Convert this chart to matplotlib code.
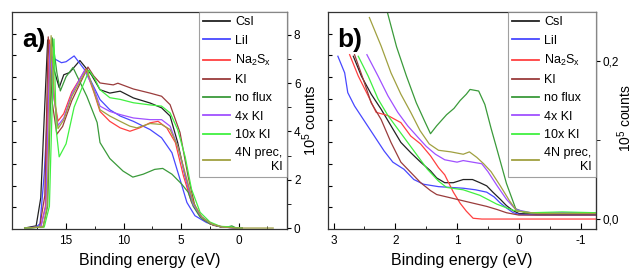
import numpy as np
import matplotlib
matplotlib.use('Agg')
import matplotlib.pyplot as plt
from matplotlib.ticker import MultipleLocator, FuncFormatter

plt.rcParams['font.family'] = ['Liberation Sans', 'DejaVu Sans']
plt.rcParams['mathtext.fontset'] = 'custom'
plt.rcParams['mathtext.rm'] = 'Liberation Sans'
plt.rcParams['mathtext.it'] = 'Liberation Sans'
plt.rcParams['axes.unicode_minus'] = False

labels = ['CsI', 'LiI', 'Na$_2$S$_x$', 'KI', 'no flux', '4x KI', '10x KI', '4N prec,\nKI']
colors = ['#222222', '#4848ff', '#ff4040', '#9a3c3c', '#3a9a3a', '#a050ff', '#40f040', '#a0a040']

# panel a: binding energy (eV), counts (1e5)
a_csi_e = [18.6, 17.6, 17.2, 16.95, 16.6, 16.2, 15.6, 15.2, 14.7, 13.8, 12.8, 12.05, 11.2, 10.3, 9.15, 7.7, 6.7, 5.96, 5.3, 4.65, 4.1, 3.35, 2.5, 1.5, 0.5, -0.3]
a_csi_v = [0.0, 0.09, 1.25, 4.03, 7.79, 6.8, 5.82, 6.35, 6.44, 6.94, 6.35, 5.73, 5.59, 5.67, 5.39, 5.18, 4.98, 4.64, 3.54, 2.15, 1.2, 0.51, 0.18, 0.04, 0.02, 0.0]
a_lii_e = [18.6, 17.6, 17.26, 16.9, 16.35, 15.9, 15.4, 15.0, 14.3, 13.2, 12.05, 11.2, 10.3, 9.15, 7.7, 6.7, 5.8, 5.1, 4.5, 3.8, 2.8, 1.8, 0.8, -0.3]
a_lii_v = [0.0, 0.04, 0.18, 2.24, 7.12, 6.98, 6.85, 6.89, 7.13, 6.44, 5.32, 4.9, 4.64, 4.42, 4.08, 3.74, 3.12, 2.02, 1.06, 0.51, 0.23, 0.07, 0.02, 0.0]
a_nas_e = [18.6, 17.2, 16.8, 16.45, 16.1, 15.7, 15.2, 14.5, 13.3, 12.6, 12.05, 11.2, 10.3, 9.45, 8.6, 7.7, 7.0, 6.25, 5.5, 4.8, 4.1, 3.35, 2.5, 1.5, 0.5, -0.3]
a_nas_v = [0.0, 0.04, 0.9, 7.79, 5.55, 4.43, 4.74, 5.64, 6.58, 5.65, 4.83, 4.42, 4.15, 4.01, 4.15, 4.36, 4.42, 4.15, 3.54, 2.16, 1.07, 0.51, 0.18, 0.04, 0.02, 0.0]
a_ki_e = [18.6, 17.3, 16.85, 16.55, 16.2, 15.8, 15.3, 14.5, 13.1, 12.6, 12.05, 10.9, 10.5, 9.15, 7.7, 6.7, 5.96, 5.1, 4.4, 3.8, 3.1, 2.2, 1.2, 0.3, -0.3]
a_ki_v = [0.0, 0.04, 1.34, 7.92, 5.19, 3.89, 4.21, 5.28, 6.67, 6.3, 6.01, 5.93, 6.0, 5.76, 5.59, 5.46, 5.11, 3.96, 2.15, 0.9, 0.36, 0.11, 0.04, 0.01, 0.0]
a_nof_e = [18.6, 17.0, 16.6, 16.2, 15.8, 15.5, 15.0, 14.4, 13.2, 12.3, 12.05, 11.2, 10.05, 9.2, 8.3, 7.3, 6.6, 5.8, 4.95, 4.4, 3.95, 3.35, 2.5, 1.6, 0.9, 0.6, 0.3, -0.3]
a_nof_v = [0.0, 0.04, 0.9, 7.88, 6.44, 5.68, 6.27, 6.65, 5.46, 4.37, 3.54, 2.88, 2.36, 2.11, 2.23, 2.43, 2.47, 2.23, 1.82, 1.49, 0.9, 0.45, 0.18, 0.05, 0.05, 0.09, 0.02, 0.0]
a_4x_e = [18.6, 17.2, 16.75, 16.4, 16.05, 15.7, 15.2, 14.5, 13.4, 12.6, 12.05, 11.2, 10.3, 9.15, 7.7, 6.7, 5.96, 5.3, 4.5, 3.95, 3.2, 2.3, 1.4, 0.4, -0.3]
a_4x_v = [0.0, 0.04, 0.9, 7.61, 5.37, 4.25, 4.56, 5.55, 6.53, 5.8, 5.05, 4.83, 4.7, 4.56, 4.49, 4.49, 4.22, 3.39, 1.88, 0.98, 0.45, 0.16, 0.04, 0.01, 0.0]
a_10x_e = [18.6, 16.9, 16.45, 16.05, 15.85, 15.6, 15.0, 14.3, 13.0, 12.5, 12.05, 11.2, 10.3, 9.15, 7.7, 6.7, 5.96, 5.3, 4.65, 4.1, 3.35, 2.5, 1.6, 0.8, 0.4, -0.3]
a_10x_v = [0.0, 0.04, 0.9, 7.83, 4.03, 2.95, 3.49, 5.01, 6.53, 6.18, 5.73, 5.4, 5.33, 5.19, 5.1, 5.05, 4.77, 4.08, 2.95, 1.61, 0.65, 0.25, 0.07, 0.05, 0.02, 0.0]
a_4n_e = [18.6, 17.0, 16.65, 16.3, 16.0, 15.7, 15.2, 14.5, 13.2, 12.6, 12.05, 11.2, 10.3, 9.45, 8.85, 7.7, 6.7, 5.96, 5.3, 4.5, 3.95, 3.2, 2.3, 1.4, 0.5, 0.0, -3.0]
a_4n_v = [0.0, 0.04, 0.9, 7.97, 5.28, 4.12, 4.48, 5.46, 6.58, 5.7, 4.9, 4.64, 4.42, 4.22, 4.15, 4.33, 4.29, 4.08, 3.39, 2.02, 1.07, 0.45, 0.16, 0.04, 0.01, 0.0, 0.0]

# panel b: valence band edge region
b_csi_e = [2.68, 2.55, 2.39, 2.23, 2.07, 1.91, 1.75, 1.59, 1.43, 1.33, 1.2, 1.06, 0.9, 0.75, 0.63, 0.52, 0.42, 0.3, 0.2, 0.1, 0.0, -0.3, -0.7, -1.25]
b_csi_v = [0.206, 0.181, 0.158, 0.139, 0.118, 0.097, 0.084, 0.072, 0.061, 0.052, 0.046, 0.046, 0.05, 0.05, 0.046, 0.042, 0.034, 0.025, 0.017, 0.011, 0.007, 0.006, 0.006, 0.006]
b_lii_e = [2.93, 2.82, 2.77, 2.66, 2.5, 2.34, 2.18, 2.04, 1.86, 1.7, 1.54, 1.3, 1.1, 0.9, 0.7, 0.52, 0.4, 0.31, 0.2, 0.09, 0.0, -0.3, -0.7, -1.25]
b_lii_v = [0.206, 0.185, 0.16, 0.143, 0.124, 0.105, 0.086, 0.072, 0.063, 0.05, 0.044, 0.041, 0.04, 0.039, 0.037, 0.034, 0.028, 0.021, 0.014, 0.008, 0.006, 0.005, 0.005, 0.005]
b_nas_e = [2.74, 2.6, 2.44, 2.31, 2.12, 1.91, 1.75, 1.59, 1.43, 1.3, 1.2, 1.06, 0.95, 0.85, 0.74, 0.6, 0.3, 0.0, -0.5, -1.25]
b_nas_v = [0.208, 0.181, 0.156, 0.135, 0.131, 0.122, 0.105, 0.095, 0.08, 0.065, 0.056, 0.034, 0.02, 0.01, 0.001, 0.0, 0.0, 0.0, 0.0, 0.0]
b_ki_e = [2.66, 2.52, 2.39, 2.23, 2.07, 1.91, 1.75, 1.59, 1.43, 1.33, 1.06, 0.79, 0.52, 0.35, 0.2, 0.0, -0.5, -1.25]
b_ki_v = [0.208, 0.177, 0.147, 0.126, 0.097, 0.072, 0.059, 0.046, 0.036, 0.031, 0.026, 0.021, 0.016, 0.012, 0.008, 0.005, 0.005, 0.005]
b_nof_e = [2.14, 1.98, 1.82, 1.66, 1.52, 1.43, 1.33, 1.17, 1.05, 0.95, 0.85, 0.79, 0.65, 0.55, 0.45, 0.36, 0.2, 0.05, -0.1, -0.5, -0.9, -1.25]
b_nof_v = [0.265, 0.218, 0.181, 0.147, 0.123, 0.108, 0.118, 0.132, 0.14, 0.15, 0.158, 0.164, 0.162, 0.145, 0.115, 0.09, 0.045, 0.013, 0.008, 0.007, 0.008, 0.007]
b_4x_e = [2.46, 2.28, 2.12, 1.96, 1.8, 1.64, 1.5, 1.35, 1.2, 1.0, 0.9, 0.75, 0.6, 0.5, 0.35, 0.2, 0.05, -0.2, -0.7, -1.25]
b_4x_v = [0.208, 0.181, 0.156, 0.135, 0.118, 0.104, 0.092, 0.082, 0.075, 0.072, 0.074, 0.072, 0.07, 0.06, 0.042, 0.025, 0.012, 0.008, 0.008, 0.008]
b_10x_e = [2.6, 2.44, 2.28, 2.12, 1.96, 1.8, 1.64, 1.48, 1.3, 1.17, 0.9, 0.63, 0.36, 0.09, -0.2, -0.7, -1.25]
b_10x_v = [0.206, 0.181, 0.152, 0.131, 0.114, 0.097, 0.08, 0.063, 0.048, 0.04, 0.037, 0.03, 0.019, 0.011, 0.008, 0.009, 0.008]
b_4n_e = [2.42, 2.23, 2.07, 1.91, 1.75, 1.6, 1.45, 1.3, 1.1, 0.9, 0.8, 0.68, 0.57, 0.45, 0.3, 0.15, 0.03, -0.3, -0.7, -1.25]
b_4n_v = [0.255, 0.219, 0.185, 0.158, 0.135, 0.112, 0.095, 0.087, 0.085, 0.082, 0.085, 0.078, 0.07, 0.06, 0.042, 0.023, 0.01, 0.007, 0.007, 0.007]

a_curves = [(a_csi_e, a_csi_v), (a_lii_e, a_lii_v), (a_nas_e, a_nas_v), (a_ki_e, a_ki_v),
            (a_nof_e, a_nof_v), (a_4x_e, a_4x_v), (a_10x_e, a_10x_v), (a_4n_e, a_4n_v)]
b_curves = [(b_csi_e, b_csi_v), (b_lii_e, b_lii_v), (b_nas_e, b_nas_v), (b_ki_e, b_ki_v),
            (b_nof_e, b_nof_v), (b_4x_e, b_4x_v), (b_10x_e, b_10x_v), (b_4n_e, b_4n_v)]

fig = plt.figure(figsize=(6.34, 2.71), dpi=100)
axa = fig.add_axes([12/634, 1-229/271, 275/634, 217/271])
axb = fig.add_axes([328/634, 1-229/271, 268/634, 217/271])

ya = (-0.04, 8.95)
yb = (-0.0126, 0.262)

for ax, curves, xl, yl in [(axa, a_curves, (19.7, -4.2), ya), (axb, b_curves, (3.09, -1.25), yb)]:
    for (e, v), c, lab in zip(curves, colors, labels):
        ax.plot(e, v, color=c, lw=0.9, label=lab)
    ax.set_xlim(*xl)
    ax.set_ylim(*yl)
    ax.set_xlabel('Binding energy (eV)', fontsize=11.5, labelpad=5)
    ax.tick_params(axis='x', which='both', direction='in', labelsize=8.5, pad=4)
    ax.tick_params(axis='x', which='major', length=4)
    ax.tick_params(axis='x', which='minor', length=2.5)
    # left side: unlabelled inner ticks at every tenth of the height
    ax.set_yticks([yl[0] + k / 10 * (yl[1] - yl[0]) for k in range(1, 10)])
    ax.tick_params(axis='y', which='both', direction='in', length=3, labelleft=False)
    for s in ax.spines.values():
        s.set_color('#333333')
        s.set_linewidth(0.9)
    leg = ax.legend(loc='upper right', fontsize=9, frameon=True, fancybox=False,
                    borderaxespad=0, handlelength=2.2, handletextpad=0.4,
                    labelspacing=0.5, borderpad=0.35)
    leg.get_frame().set_edgecolor('#888888')
    leg.get_frame().set_linewidth(0.8)
    for ln in leg.get_lines():
        ln.set_linewidth(1.3)
    leg.get_texts()[-1].set_multialignment('right')

axa.xaxis.set_major_locator(MultipleLocator(5))
axa.xaxis.set_minor_locator(MultipleLocator(2.5))
sa = axa.secondary_yaxis('right')
sa.set_yticks([0, 2, 4, 6, 8])
sa.yaxis.set_minor_locator(MultipleLocator(1))
sa.tick_params(which='both', direction='out', length=3, labelsize=8.5, pad=2)
sa.spines['right'].set_color('#333333')

axb.xaxis.set_major_locator(MultipleLocator(1))
axb.xaxis.set_minor_locator(MultipleLocator(0.5))
sb = axb.secondary_yaxis('right')
sb.set_yticks([0.0, 0.2])
sb.yaxis.set_minor_locator(MultipleLocator(0.1))
sb.yaxis.set_major_formatter(FuncFormatter(lambda v, p: ('%.1f' % v).replace('.', ',')))
sb.tick_params(which='both', direction='out', length=3, labelsize=8.5, pad=1.5)
sb.spines['right'].set_color('#333333')

# right-hand axis titles placed in figure pixels
fig.text(309.5/634, 1-120/271, '10$^5$ counts', rotation=90, ha='center', va='center', fontsize=10.5)
fig.text(625/634, 1-118/271, '10$^5$ counts', rotation=90, ha='center', va='center', fontsize=10)

axa.text(0.036, 0.84, 'a)', transform=axa.transAxes, fontsize=19, fontweight='bold')
axb.text(0.034, 0.84, 'b)', transform=axb.transAxes, fontsize=19, fontweight='bold')

fig.savefig('out.png', dpi=100)
